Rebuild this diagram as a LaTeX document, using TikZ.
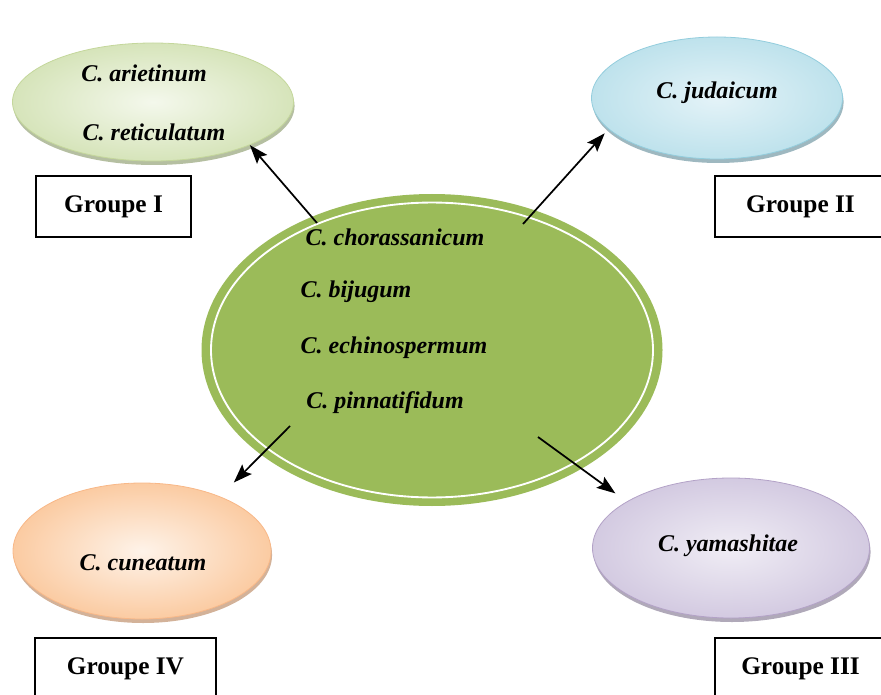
\documentclass[tikz,border=0pt]{standalone}
\usepackage{fontspec}
\setmainfont{Liberation Serif}
\usepackage{tikz}
\usetikzlibrary{arrows.meta,positioning,shapes.geometric,shadows}
\usepackage{xcolor}
\definecolor{cengreen}{HTML}{9BBB59}
\definecolor{lgin}{HTML}{F4F8EC}
\definecolor{lgout}{HTML}{D6E4BA}
\definecolor{lgline}{HTML}{C4D79B}
\definecolor{lgshad}{HTML}{A3AF8A}
\definecolor{lbin}{HTML}{E4F3F8}
\definecolor{lbout}{HTML}{BEE2EC}
\definecolor{lbline}{HTML}{93CDDD}
\definecolor{lbshad}{HTML}{86A6B0}
\definecolor{lvin}{HTML}{F0EDF5}
\definecolor{lvout}{HTML}{D3CAE1}
\definecolor{lvline}{HTML}{B3A2C7}
\definecolor{lvshad}{HTML}{9C93A8}
\definecolor{loin}{HTML}{FEF3E9}
\definecolor{loout}{HTML}{FBCBA2}
\definecolor{loline}{HTML}{F8B888}
\definecolor{loshad}{HTML}{C89F80}

\begin{document}
\begin{tikzpicture}[x=0.75pt,y=-0.75pt,
	sp/.style={font=\fontsize{18}{20}\selectfont\bfseries\itshape},
	grp/.style={draw,line width=1.5pt,minimum height=45.75pt,font=\fontsize{19}{21}\selectfont\bfseries},
	ell/.style={ellipse,inner sep=0pt,line width=0.6pt},
	arr/.style={-{Stealth[length=14pt,width=10pt,inset=2.5pt]},line width=1.3pt}]
	\useasboundingbox (0,0) rectangle (881,695);
	% ellipses
	\node[ell,minimum width=345.75pt,minimum height=234pt,fill=cengreen] (cen) at (432,350) {};
	\draw[white,line width=1.4pt] (cen.center) ellipse [x radius=165.75pt,y radius=110.6pt];
	\node[ell,minimum width=210.75pt,minimum height=88.5pt,draw=lgline,inner color=lgin,outer color=lgout,
		drop shadow={shadow xshift=0.8pt,shadow yshift=-3pt,fill=lgshad,opacity=.8}] (ellI) at (153,102) {};
	\node[ell,minimum width=188.25pt,minimum height=91.5pt,draw=lbline,inner color=lbin,outer color=lbout,
		drop shadow={shadow xshift=0.8pt,shadow yshift=-3pt,fill=lbshad,opacity=.8}] (ellII) at (717,98) {};
	\node[ell,minimum width=207.75pt,minimum height=105pt,draw=lvline,inner color=lvin,outer color=lvout,
		drop shadow={shadow xshift=0.8pt,shadow yshift=-3pt,fill=lvshad,opacity=.8}] (ellIII) at (731,548) {};
	\node[ell,minimum width=193.5pt,minimum height=102pt,draw=loline,inner color=loin,outer color=loout,
		drop shadow={shadow xshift=0.8pt,shadow yshift=-3pt,fill=loshad,opacity=.8}] (ellIV) at (142,551) {};
	% species
	\node[sp] (ari) at (144,73) {C. arietinum};
	\node[sp] (ret) at (154,132) {C. reticulatum};
	\node[sp] (jud) at (717,93) {C. judaicum};
	\node[sp] (cho) at (395,237) {C. chorassanicum};
	\node[sp] (bij) at (356,292) {C. bijugum};
	\node[sp] (ech) at (394,348) {C. echinospermum};
	\node[sp] (pin) at (385,403) {C. pinnatifidum};
	\node[sp] (cun) at (143,563) {C. cuneatum};
	\node[sp] (yam) at (728,546) {C. yamashitae};
	% groups
	\node[grp,minimum width=116.25pt] (grpI) at (113.5,206.5) {Groupe I};
	\node[grp,minimum width=128.25pt] (grpII) at (800.5,206.5) {Groupe II};
	\node[grp,minimum width=128.25pt,minimum height=46.5pt] (grpIII) at (800.5,669) {Groupe III};
	\node[grp,minimum width=135.75pt,minimum height=46.5pt] (grpIV) at (125.5,669) {Groupe IV};
	% arrows
	\coordinate (t1) at (317,223);
	\coordinate (t2) at (523,224);
	\coordinate (t3) at (290,426);
	\coordinate (t4) at (538,437);
	\draw[arr] (t1) -- (ellI.-24);
	\draw[arr,shorten >=4.2pt] (t2) -- (ellII.196);
	\draw[arr,shorten >=10.4pt] (t4) -- (ellIII.156);
	\draw[arr,shorten >=14.7pt] (t3) -- (ellIV.35);
\end{tikzpicture}
\end{document}
